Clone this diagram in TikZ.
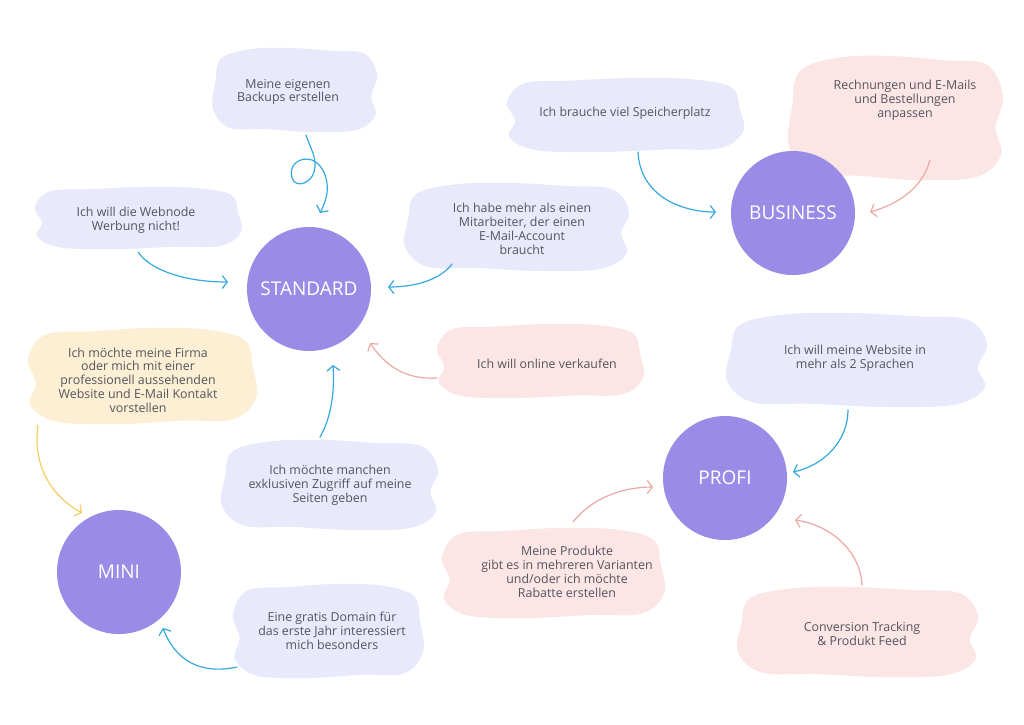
\documentclass[tikz,border=0pt]{standalone}
\usepackage{fontspec}
\setmainfont{Open Sans}
\usetikzlibrary{arrows.meta,calc}
\definecolor{blobblue}{HTML}{E8E9FA}
\definecolor{blobpink}{HTML}{FCE5E5}
\definecolor{blobyellow}{HTML}{FCEFD3}
\definecolor{circcol}{HTML}{9A8CE6}
\definecolor{txtcol}{HTML}{55555F}
\definecolor{arrblue}{HTML}{36A8E0}
\definecolor{arrpink}{HTML}{EDA8A2}
\definecolor{arryellow}{HTML}{F3CE62}
\newcommand\cloudshape[6]{%
 \fill[#5] plot[smooth cycle, tension=0.6] coordinates {
 ({#1+#6*(-0.97)*#3},{#2-0.2*#4})
 ({#1+#6*(-0.9)*#3},{#2-0.75*#4})
 ({#1+#6*(-0.55)*#3},{#2-0.97*#4})
 ({#1+#6*(-0.05)*#3},{#2-1.0*#4})
 ({#1+#6*0.45*#3},{#2-0.93*#4})
 ({#1+#6*0.85*#3},{#2-0.86*#4})
 ({#1+#6*1.0*#3},{#2-0.35*#4})
 ({#1+#6*0.93*#3},{#2+0.15*#4})
 ({#1+#6*0.98*#3},{#2+0.6*#4})
 ({#1+#6*0.75*#3},{#2+0.95*#4})
 ({#1+#6*0.2*#3},{#2+1.0*#4})
 ({#1+#6*(-0.35)*#3},{#2+0.93*#4})
 ({#1+#6*(-0.8)*#3},{#2+0.9*#4})
 ({#1+#6*(-1.0)*#3},{#2+0.45*#4})
 };}
\tikzset{
 txt/.style={align=center, font=\fontsize{12.4}{13.8}\selectfont, text=txtcol, inner sep=0pt},
 plan/.style={circle, fill=circcol, minimum size=124pt, inner sep=0pt, text=white, font=\fontsize{19}{21}\selectfont},
 conn/.style={line width=1.2pt, line cap=round, -{Straight Barb[length=5pt,width=13pt,line width=1.2pt]}},
 cblue/.style={conn, draw=arrblue},
 cpink/.style={conn, draw=arrpink},
 cyellow/.style={conn, draw=arryellow},
}
\begin{document}
\begin{tikzpicture}[x=1pt,y=-1pt]
\useasboundingbox (0,0) rectangle (1024,724);
\fill[white] (0,0) rectangle (1024,724);
% blobs
\cloudshape{295}{90}{82}{42}{blobblue}{1}
\cloudshape{138}{218}{103}{31}{blobblue}{-1}
\cloudshape{517}{227}{112}{44}{blobblue}{1}
\cloudshape{625}{115}{118}{37}{blobblue}{-1}
\cloudshape{896}{118}{107}{62}{blobpink}{1}
\cloudshape{142}{376}{114}{48}{blobyellow}{-1}
\cloudshape{330}{485}{108}{45}{blobblue}{1}
\cloudshape{540}{361}{103}{37}{blobpink}{-1}
\cloudshape{857}{360}{130}{47}{blobblue}{1}
\cloudshape{553}{573}{111}{45}{blobpink}{-1}
\cloudshape{858}{632}{120}{45}{blobpink}{1}
\cloudshape{328}{631}{95}{47}{blobblue}{-1}
% text nodes
\node[txt] (backup) at (288,92) {Meine eigenen\\Backups erstellen};
\node[txt] (web) at (136,220) {Ich will die Webnode\\Werbung nicht!};
\node[txt] (mit) at (522,229) {Ich habe mehr als einen\\Mitarbeiter, der einen\\E-Mail-Account\\braucht};
\node[txt] (spei) at (625,113) {Ich brauche viel Speicherplatz};
\node[txt] (rech) at (905,100) {Rechnungen und E-Mails\\und Bestellungen\\anpassen};
\node[txt] (firma) at (138,380) {Ich möchte meine Firma\\oder mich mit einer\\professionell aussehenden\\Website und E-Mail Kontakt\\vorstellen};
\node[txt] (zug) at (330,485) {Ich möchte manchen\\exklusiven Zugriff auf meine\\Seiten geben};
\node[txt] (onl) at (547,364) {Ich will online verkaufen};
\node[txt] (spr) at (855,358) {Ich will meine Website in\\mehr als 2 Sprachen};
\node[txt] (prod) at (567,572) {Meine Produkte\\gibt es in mehreren Varianten\\und/oder ich möchte\\Rabatte erstellen};
\node[txt] (conv) at (862,634) {Conversion Tracking\\\& Produkt Feed};
\node[txt] (dom) at (332,631) {Eine gratis Domain für\\das erste Jahr interessiert\\mich besonders};
% plans
\node[plan] (std) at (309,289) {STANDARD};
\node[plan] (biz) at (793,213) {BUSINESS};
\node[plan] (profi) at (725,478) {PROFI};
\node[plan] (mini) at (119,572) {MINI};
% connectors
\draw[cblue] ($(backup)+(18,43)$) .. controls (310,148) and (318,158) .. (314,172)
  .. controls (311,183) and (296,189) .. (292,178)
  .. controls (288,165) and (300,156) .. (312,160)
  .. controls (325,165) and (330,185) .. (326,198)
  .. controls (324,205) and (322,209) .. ($(std)+(11,-76)$);
\draw[cblue] ($(web)+(2,32)$) .. controls (150,270) and (185,282) .. ($(std)+(-81,-7)$);
\draw[cblue] ($(mit)+(-70,35)$) .. controls (440,280) and (415,287) .. ($(std)+(79,-2)$);
\draw[cblue] ($(spei)+(13,39)$) .. controls (640,195) and (680,212) .. ($(biz)+(-77,-1)$);
\draw[cpink] ($(rech)+(25,60)$) .. controls (922,190) and (895,205) .. ($(biz)+(77,-1)$);
\draw[cyellow] ($(firma)+(-100,45)$) .. controls (32,470) and (55,498) .. ($(mini)+(-37,-59)$);
\draw[cblue] ($(zug)+(-10,-48)$) .. controls (330,420) and (335,395) .. ($(std)+(24,76)$);
\draw[cpink] ($(onl)+(-110,14)$) .. controls (405,380) and (385,365) .. ($(std)+(61,54)$);
\draw[cblue] ($(spr)+(-7,52)$) .. controls (848,440) and (825,465) .. ($(profi)+(68,-6)$);
\draw[cpink] ($(prod)+(6,-50)$) .. controls (590,500) and (620,487) .. ($(profi)+(-72,9)$);
\draw[cpink] ($(conv)+(0,-49)$) .. controls (860,550) and (830,525) .. ($(profi)+(70,42)$);
\draw[cblue] ($(dom)+(-95,36)$) .. controls (200,675) and (175,660) .. ($(mini)+(44,56)$);
\end{tikzpicture}
\end{document}
